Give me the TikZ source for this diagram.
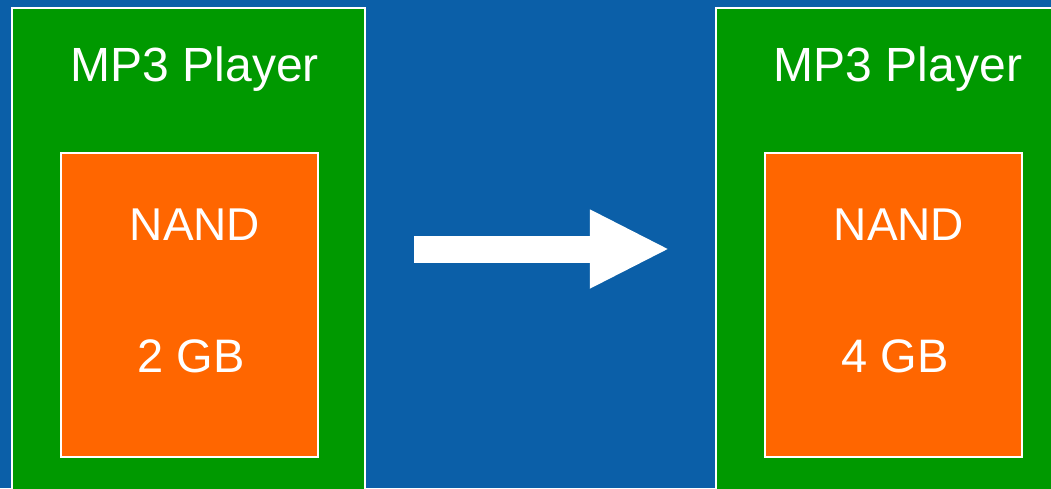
\documentclass[tikz,border=0pt]{standalone}
\usepackage{fontspec}
\setmainfont{Liberation Sans}
\usepackage{xcolor}
\usetikzlibrary{arrows.meta}

\definecolor{slideblue}{RGB}{11,95,168}
\definecolor{mpgreen}{RGB}{0,153,0}
\definecolor{nandorange}{RGB}{255,102,0}

\begin{document}
\begin{tikzpicture}[x=1pt,y=-1pt,
    playerbox/.style={draw=white,line width=2.5pt,fill=mpgreen,inner sep=0pt,minimum width=353pt,minimum height=482pt},
    nandbox/.style={draw=white,line width=2.5pt,fill=nandorange,inner sep=0pt,minimum width=257pt,minimum height=304pt},
    boxtext/.style={text=white,anchor=base,inner sep=0pt}]
    \useasboundingbox (0,0) rectangle (1051,488);
    \clip (0,0) rectangle (1051,488);
    \fill[slideblue] (0,0) rectangle (1051,488);
    % old player and new player
    \node (oldp) [playerbox] at (188.5,249) {};
    \node (newp) [playerbox] at (892.5,249) {};
    \node (oldn) [nandbox] at (189.5,305) {};
    \node (newn) [nandbox] at (893.5,305) {};
    \node (oldtitle) [boxtext,font=\fontsize{48}{58}\selectfont] at (195,81) {MP3 Player};
    \node (newtitle) [boxtext,font=\fontsize{48}{58}\selectfont] at (898,81) {MP3 Player};
    \node (oldnand) [boxtext,font=\fontsize{46}{55}\selectfont] at (195,240) {NAND};
    \node (newnand) [boxtext,font=\fontsize{46}{55}\selectfont] at (899,240) {NAND};
    \node (oldsize) [boxtext,font=\fontsize{47}{56}\selectfont] at (191,372.7) {2 GB};
    \node (newsize) [boxtext,font=\fontsize{47}{56}\selectfont] at (895,372.7) {4 GB};
    \draw[white,line width=27pt,shorten <=48pt,shorten >=45pt,-{Triangle[length=80pt,width=73pt]}] (oldp.east) -- (newp.west);
\end{tikzpicture}
\end{document}
